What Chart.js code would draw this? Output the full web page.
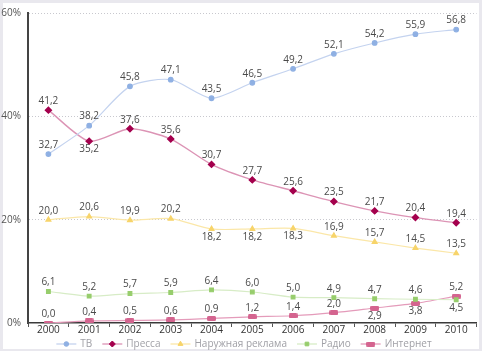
<!DOCTYPE html>
<html lang="ru">
<head>
    <meta charset="UTF-8">
    <title>Структура рекламного рынка 2000–2010</title>
    <script src="https://cdn.jsdelivr.net/npm/chart.js"></script>
    <style>
        html, body {
            margin: 0;
            padding: 0;
            background: #e9e8ee;
        }
        #chart {
            display: block;
        }
    </style>
</head>
<body>
    <canvas id="chart" width="482" height="351"></canvas>

    <script>
        // data
        const years = ['2000', '2001', '2002', '2003', '2004', '2005', '2006', '2007', '2008', '2009', '2010'];
        const tv       = [32.7, 38.2, 45.8, 47.1, 43.5, 46.5, 49.2, 52.1, 54.2, 55.9, 56.8];
        const press    = [41.2, 35.2, 37.6, 35.6, 30.7, 27.7, 25.6, 23.5, 21.7, 20.4, 19.4];
        const outdoor  = [20.0, 20.6, 19.9, 20.2, 18.2, 18.2, 18.3, 16.9, 15.7, 14.5, 13.5];
        const radio    = [6.1, 5.2, 5.7, 5.9, 6.4, 6.0, 5.0, 4.9, 4.7, 4.6, 4.5];
        const internet = [0.0, 0.4, 0.5, 0.6, 0.9, 1.2, 1.4, 2.0, 2.9, 3.8, 5.2];
        const yTicks = [0, 20, 40, 60];

        // where the value labels sit (u = above point, d = below)
        const labelSide = {
            'ТВ':               'uuuuuuuuuuu',
            'Пресса':           'uduuuuuuuuu',
            'Наружная реклама': 'uuuudddiuuu'.replace('i', 'u'),
            'Радио':            'uuuuuuuuuud',
            'Интернет':         'uuuuuuuuddu'
        };

        const FONT = '"Open Sans", "DejaVu Sans", sans-serif';

        function pillPoint(color) {
            const c = document.createElement('canvas');
            c.width = 9; c.height = 5;
            const g = c.getContext('2d');
            g.fillStyle = color;
            g.beginPath();
            g.roundRect(0, 0, 9, 5, 1.5);
            g.fill();
            return c;
        }

        const internetPoint = pillPoint('#d4648f');

        const datasets = [
            { label: 'ТВ', data: tv, borderColor: '#c4d3ef', pointBackgroundColor: '#8fb0e3', pointBorderColor: '#8fb0e3', pointStyle: 'circle', pointRadius: 2.3, borderWidth: 1.2 },
            { label: 'Пресса', data: press, borderColor: '#dc94b5', pointBackgroundColor: '#a4004d', pointBorderColor: '#a4004d', pointStyle: 'rectRot', pointRadius: 3, borderWidth: 1.4 },
            { label: 'Наружная реклама', data: outdoor, borderColor: '#fbe7a8', pointBackgroundColor: '#f7d46a', pointBorderColor: '#f7d46a', pointStyle: 'triangle', pointRadius: 2.8, borderWidth: 1.2 },
            { label: 'Радио', data: radio, borderColor: '#d7ecc6', pointBackgroundColor: '#97cd6c', pointBorderColor: '#97cd6c', pointStyle: 'rect', pointRadius: 2.6, borderWidth: 1.2 },
            { label: 'Интернет', data: internet, borderColor: '#e49bba', pointBackgroundColor: '#d4648f', pointBorderColor: '#d4648f', pointStyle: internetPoint, pointRadius: 4, borderWidth: 1.2 }
        ];

        const panelBg = {
            id: 'panelBg',
            beforeDraw(chart) {
                const ctx = chart.ctx;
                ctx.save();
                ctx.fillStyle = '#e9e8ee';
                ctx.fillRect(0, 0, chart.width, chart.height);
                ctx.fillStyle = '#ffffff';
                ctx.fillRect(3, 3, 476, 346);
                ctx.restore();
            }
        };

        const valueLabels = {
            id: 'valueLabels',
            afterDatasetsDraw(chart) {
                const ctx = chart.ctx;
                ctx.save();
                ctx.font = '10px ' + FONT;
                ctx.fillStyle = '#4a4a4a';
                ctx.textAlign = 'center';
                ctx.textBaseline = 'middle';
                chart.data.datasets.forEach((ds, i) => {
                    const side = labelSide[ds.label];
                    chart.getDatasetMeta(i).data.forEach((pt, j) => {
                        const txt = ds.data[j].toFixed(1).replace('.', ',');
                        const dy = side[j] === 'd' ? 8 : -9;
                        ctx.fillText(txt, pt.x, pt.y + dy);
                    });
                });
                ctx.restore();
            }
        };

        // legend with a short line through each marker
        const lineLegend = {
            id: 'lineLegend',
            afterDraw(chart) {
                const ctx = chart.ctx;
                const y = 344;
                const seg = 20, gap = 4, between = 10;
                ctx.save();
                ctx.font = '10px ' + FONT;
                const items = chart.data.datasets.map(ds => ({ ds, w: seg + gap + ctx.measureText(ds.label).width }));
                const total = items.reduce((s, it) => s + it.w, 0) + between * (items.length - 1);
                let x = 244 - total / 2;
                items.forEach(({ ds, w }) => {
                    ctx.strokeStyle = ds.borderColor;
                    ctx.lineWidth = 1.3;
                    ctx.beginPath();
                    ctx.moveTo(x, y);
                    ctx.lineTo(x + seg, y);
                    ctx.stroke();
                    ctx.fillStyle = ds.pointBackgroundColor;
                    ctx.strokeStyle = ds.pointBorderColor;
                    ctx.lineWidth = 1;
                    Chart.helpers.drawPoint(ctx, {
                        pointStyle: ds.pointStyle,
                        radius: ds.pointRadius,
                        rotation: 0,
                        borderWidth: 1
                    }, x + seg / 2, y);
                    ctx.fillStyle = '#a0a0a6';
                    ctx.textAlign = 'left';
                    ctx.textBaseline = 'middle';
                    ctx.fillText(ds.label, x + seg + gap, y);
                    x += w + between;
                });
                ctx.restore();
            }
        };

        new Chart(document.getElementById('chart'), {
            type: 'line',
            data: { labels: years, datasets },
            plugins: [panelBg, valueLabels, lineLegend],
            options: {
                responsive: false,
                devicePixelRatio: 1,
                animation: false,
                layout: { padding: { top: 6, right: 5, bottom: 15, left: 0 } },
                elements: { line: { tension: 0.25, fill: false } },
                plugins: {
                    legend: { display: false },
                    tooltip: { enabled: false }
                },
                scales: {
                    x: {
                        offset: true,
                        grid: {
                            offset: true,
                            drawOnChartArea: false,
                            drawTicks: true,
                            tickLength: 4,
                            tickColor: '#555'
                        },
                        border: { color: '#3a3a3a', width: 1.5 },
                        ticks: { padding: -3, color: '#333', font: { size: 10, family: FONT } },
                        afterFit(s) { s.height = 13; }
                    },
                    y: {
                        min: yTicks[0],
                        max: yTicks[yTicks.length - 1],
                        afterBuildTicks(s) { s.ticks = yTicks.map(v => ({ value: v })); },
                        ticks: {
                            padding: 7,
                            color: '#555',
                            font: { size: 10, family: FONT },
                            callback: v => v + '%'
                        },
                        grid: {
                            drawTicks: false,
                            color: c => (c.tick && c.tick.value === 0) ? 'rgba(0,0,0,0)' : '#c8c8ce',
                            lineWidth: 1
                        },
                        border: { color: '#444', width: 2, dash: [1, 2] },
                        afterFit(s) { s.width = 28; }
                    }
                }
            }
        });
    </script>
</body>
</html>
